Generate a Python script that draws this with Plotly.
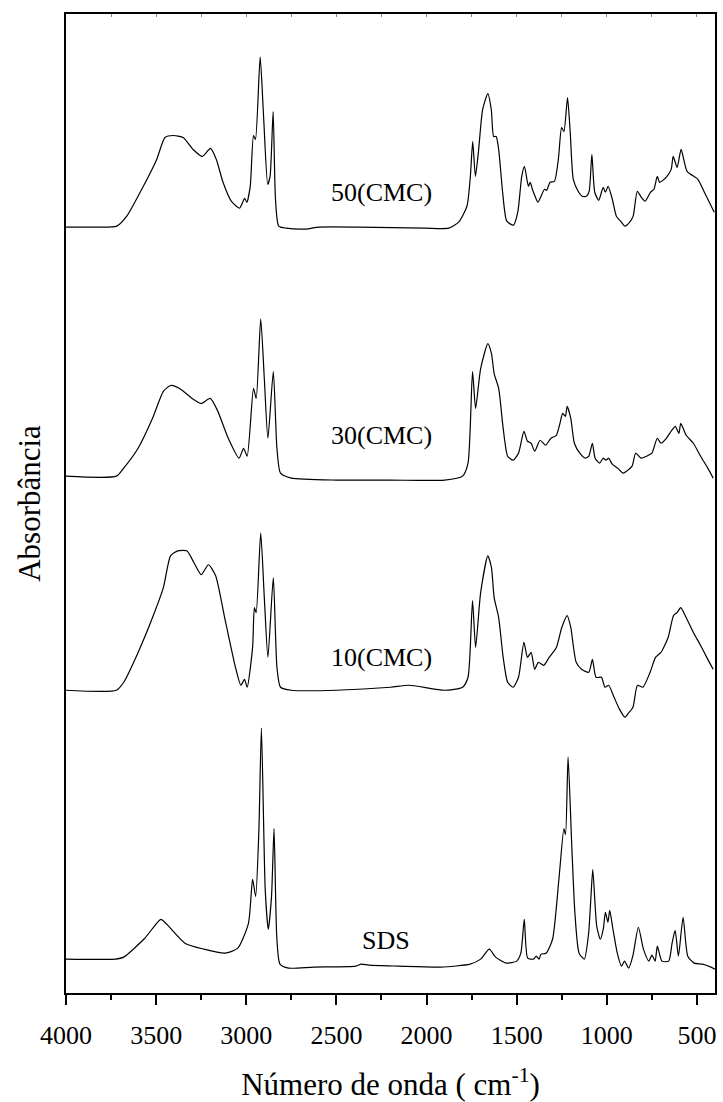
import plotly.graph_objects as go

# ---------------- data (absorbance, a.u., relative to each spectrum's own baseline) -------------
wn_50 = [4000, 3850, 3718, 3663, 3571, 3497, 3451, 3405, 3350, 3295, 3243, 3199, 3166, 3129, 3083,
         3037, 3009, 2997, 2978, 2960, 2949, 2923, 2904, 2881, 2868, 2851, 2838, 2820, 2779, 2674,
         2595, 2374, 2007, 1877, 1822, 1776, 1757, 1744, 1729, 1711, 1689, 1660, 1641, 1628, 1614,
         1600, 1578, 1555, 1518, 1494, 1472, 1457, 1435, 1425, 1413, 1398, 1383, 1365, 1346, 1334,
         1315, 1291, 1269, 1251, 1238, 1218, 1203, 1186, 1159, 1137, 1113, 1098, 1083, 1067, 1045,
         1020, 1008, 993, 971, 947, 919, 900, 873, 854, 831, 809, 787, 758, 739, 720,
         707, 671, 643, 632, 610, 588, 555, 495, 459, 404]
ab_50 = [0.00, 0.00, 0.01, 0.11, 0.41, 0.68, 0.90, 0.92, 0.90, 0.78, 0.71, 0.79, 0.68, 0.45, 0.26,
         0.19, 0.29, 0.25, 0.41, 0.92, 0.88, 1.71, 1.11, 0.43, 0.51, 1.16, 0.28, 0.01, -0.01, -0.02,
         0.00, 0.00, -0.01, -0.01, 0.05, 0.21, 0.51, 0.86, 0.51, 0.78, 1.18, 1.34, 1.18, 0.91, 0.91,
         0.78, 0.35, 0.06, 0.02, 0.15, 0.51, 0.61, 0.41, 0.45, 0.38, 0.31, 0.25, 0.31, 0.38, 0.37,
         0.45, 0.46, 0.68, 1.00, 0.96, 1.30, 0.95, 0.48, 0.36, 0.31, 0.31, 0.36, 0.73, 0.35, 0.27,
         0.40, 0.35, 0.41, 0.29, 0.11, 0.05, 0.01, 0.05, 0.11, 0.36, 0.30, 0.26, 0.35, 0.38, 0.51,
         0.45, 0.50, 0.58, 0.71, 0.60, 0.78, 0.56, 0.48, 0.35, 0.15]

wn_30 = [4000, 3720, 3680, 3600, 3520, 3460, 3420, 3370, 3300, 3250, 3200, 3160, 3100, 3040, 3015,
         2995, 2960, 2945, 2920, 2900, 2880, 2850, 2830, 2810, 2750, 2500, 2200, 1900, 1800, 1770,
         1745, 1728, 1700, 1660, 1640, 1625, 1600, 1575, 1550, 1520, 1490, 1460, 1440, 1420, 1400,
         1370, 1340, 1310, 1280, 1260, 1245, 1230, 1220, 1200, 1180, 1150, 1120, 1100, 1080, 1065,
         1040, 1020, 1005, 990, 970, 940, 910, 890, 860, 840, 810, 780, 750, 720, 700,
         670, 640, 620, 600, 590, 560, 520, 480, 440, 410]
ab_30 = [0.00, 0.00, 0.08, 0.28, 0.58, 0.85, 0.91, 0.88, 0.78, 0.73, 0.78, 0.66, 0.38, 0.18, 0.28,
         0.20, 0.88, 0.78, 1.58, 0.98, 0.38, 1.05, 0.28, 0.03, -0.02, -0.04, -0.04, -0.04, 0.00, 0.13,
         1.05, 0.68, 1.08, 1.33, 1.23, 1.03, 0.88, 0.48, 0.20, 0.16, 0.23, 0.45, 0.35, 0.33, 0.25,
         0.36, 0.31, 0.38, 0.41, 0.53, 0.63, 0.60, 0.70, 0.58, 0.33, 0.23, 0.18, 0.20, 0.33, 0.18,
         0.13, 0.18, 0.16, 0.18, 0.12, 0.08, 0.03, 0.05, 0.10, 0.23, 0.18, 0.20, 0.23, 0.38, 0.33,
         0.38, 0.46, 0.50, 0.43, 0.53, 0.41, 0.33, 0.20, 0.08, -0.02]

wn_10 = [4000, 3720, 3680, 3600, 3520, 3460, 3420, 3380, 3330, 3290, 3250, 3210, 3170, 3120, 3060,
         3030, 3010, 2995, 2965, 2955, 2945, 2920, 2900, 2880, 2850, 2830, 2810, 2750, 2500, 2200,
         2100, 1900, 1800, 1770, 1745, 1728, 1700, 1660, 1640, 1625, 1600, 1575, 1550, 1520, 1490,
         1460, 1440, 1420, 1400, 1380, 1350, 1320, 1280, 1250, 1220, 1200, 1170, 1140, 1100, 1080,
         1060, 1030, 1010, 990, 960, 930, 900, 880, 855, 830, 800, 760, 730, 700, 660,
         630, 610, 590, 560, 520, 480, 440, 410]
ab_10 = [0.00, 0.00, 0.08, 0.38, 0.73, 1.03, 1.35, 1.40, 1.40, 1.28, 1.16, 1.26, 1.15, 0.73, 0.23,
         0.05, 0.11, 0.03, 0.43, 0.83, 0.78, 1.58, 0.93, 0.33, 1.13, 0.23, 0.03, 0.00, 0.00, 0.03,
         0.05, 0.00, 0.03, 0.13, 0.90, 0.43, 0.98, 1.35, 1.23, 0.93, 0.73, 0.33, 0.08, 0.03, 0.13,
         0.48, 0.33, 0.38, 0.21, 0.28, 0.25, 0.33, 0.43, 0.63, 0.75, 0.63, 0.28, 0.21, 0.18, 0.31,
         0.13, 0.13, 0.03, 0.05, -0.07, -0.19, -0.27, -0.23, -0.17, 0.05, 0.03, 0.18, 0.33, 0.38, 0.53,
         0.75, 0.78, 0.83, 0.73, 0.58, 0.45, 0.31, 0.21]

wn_sds = [4000, 3728, 3680, 3563, 3474, 3446, 3340, 3235, 3118, 3047, 2988, 2965, 2948, 2930, 2916,
          2895, 2878, 2860, 2846, 2831, 2813, 2766, 2627, 2392, 2363, 2320, 2156, 1922, 1758, 1700,
          1652, 1617, 1559, 1500, 1477, 1458, 1439, 1407, 1392, 1376, 1365, 1337, 1301, 1266, 1238,
          1229, 1215, 1195, 1177, 1154, 1125, 1101, 1088, 1078, 1056, 1036, 1019, 1008, 994, 984,
          966, 942, 919, 902, 879, 856, 825, 797, 767, 750, 732, 720, 694, 657, 638,
          621, 603, 577, 551, 516, 469, 422, 400]
ab_sds = [0.00, 0.00, 0.02, 0.21, 0.40, 0.36, 0.16, 0.10, 0.06, 0.11, 0.36, 0.80, 0.63, 1.30, 2.32,
          0.70, 0.30, 0.63, 1.31, 0.23, -0.05, -0.09, -0.08, -0.07, -0.05, -0.06, -0.07, -0.08, -0.05, 0.00,
          0.10, 0.02, -0.04, -0.02, 0.06, 0.40, 0.01, 0.00, 0.03, 0.00, 0.05, 0.06, 0.20, 0.80, 1.31,
          1.25, 2.03, 1.16, 0.46, 0.06, 0.00, 0.26, 0.63, 0.90, 0.33, 0.20, 0.31, 0.47, 0.37, 0.49,
          0.30, 0.06, -0.07, -0.02, -0.09, 0.03, 0.32, 0.10, -0.02, 0.04, -0.02, 0.13, -0.02, -0.02, 0.16,
          0.29, 0.03, 0.42, 0.03, -0.04, -0.05, -0.08, -0.10]

series_names = ["SDS", "10(CMC)", "30(CMC)", "50(CMC)"]
series_wn = [wn_sds, wn_10, wn_30, wn_50]
series_ab = [ab_sds, ab_10, ab_30, ab_50]
offsets = [0.34, 3.04, 5.19, 7.69]           # vertical stacking offsets (a.u.)
label_wn = [2224, 2252, 2252, 2252]           # where each label sits (cm-1)
label_ab = [0.53, 3.37, 5.60, 8.04]           # label heights (a.u.)

x_ticks = [4000, 3500, 3000, 2500, 2000, 1500, 1000, 500]

# ---------------- figure -------------------------------------------------------------------------
serif = "Times New Roman, Liberation Serif, serif"
fig = go.Figure()
for name, wn, ab, off in zip(series_names, series_wn, series_ab, offsets):
    fig.add_trace(go.Scatter(x=wn, y=[a + off for a in ab], mode="lines", name=name,
                             line=dict(color="black", width=1.2, shape="spline", smoothing=0.6),
                             showlegend=False))

# helper (invisible) trace so the top axis with its small inner ticks is drawn
fig.add_trace(go.Scatter(x=[x_ticks[0]], y=[None], xaxis="x2", mode="lines",
                         showlegend=False, hoverinfo="skip"))

for name, lx, ly in zip(series_names, label_wn, label_ab):
    fig.add_annotation(x=lx, y=ly, text=name, showarrow=False,
                       font=dict(family=serif, size=26, color="black"),
                       xanchor="center", yanchor="middle")

fig.update_layout(
    width=723, height=1102,
    margin=dict(l=66, r=6, t=14, b=105),
    paper_bgcolor="white", plot_bgcolor="white",
    font=dict(family=serif, color="black"),
    xaxis=dict(range=[4000, 400], tickvals=x_ticks, ticktext=[str(v) for v in x_ticks],
               ticks="outside", ticklen=10, tickwidth=1.5, tickcolor="black",
               minor=dict(dtick=250, ticks="outside", ticklen=5, tickwidth=1.5, tickcolor="black"),
               showline=True, linewidth=2, linecolor="black", mirror=True,
               showgrid=False, zeroline=False, ticklabelstandoff=8,
               tickfont=dict(size=26, family=serif),
               title=dict(text="Número de onda ( cm<sup>-1</sup>)", font=dict(size=31, family=serif),
                          standoff=24)),
    xaxis2=dict(overlaying="x", side="top", matches="x", range=[4000, 400],
                tickmode="linear", tick0=4000, dtick=250, ticks="inside", ticklen=3,
                tickwidth=1, tickcolor="#888888", showticklabels=False,
                showline=False, showgrid=False, zeroline=False),
    yaxis=dict(range=[0, 9.83], showticklabels=False, ticks="",
               showline=True, linewidth=2, linecolor="black", mirror=True,
               showgrid=False, zeroline=False,
               title=dict(text="Absorbância", font=dict(size=31, family=serif), standoff=14)),
)

fig.write_html("out.html")
